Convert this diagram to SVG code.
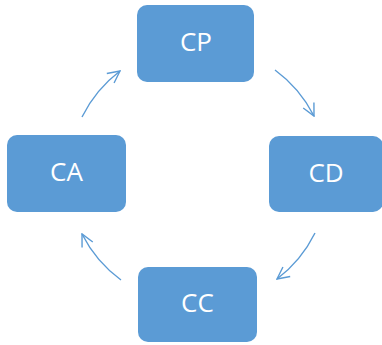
<svg xmlns="http://www.w3.org/2000/svg" width="382" height="345" viewBox="0 0 382 345">
<style>
.box{fill:#5B9BD5}
.lbl{fill:#FFFFFF;font-family:"Open Sans","Liberation Sans",sans-serif;font-size:26px;text-anchor:middle;dominant-baseline:central}
.arc{fill:none;stroke:#5B9BD5;stroke-width:1.4;marker-end:url(#ah)}
</style>
<defs>
<marker id="ah" viewBox="0 0 14 14" refX="13" refY="7" markerWidth="14" markerHeight="14" markerUnits="userSpaceOnUse" orient="auto">
<path d="M1,1 L13,7 L1,13" fill="none" stroke="#5B9BD5" stroke-width="1.4"/>
</marker>
</defs>
<rect width="382" height="345" fill="#FFFFFF"/>
<g id="connectors">
<path class="arc" d="M82,117 A130,130 0 0 1 120,71"/>
<path class="arc" d="M275,70 A130,130 0 0 1 314,116"/>
<path class="arc" d="M315,233 A130,130 0 0 1 277,279"/>
<path class="arc" d="M121,280 A130,130 0 0 1 82,234"/>
</g>
<g id="CP"><rect class="box" x="137" y="5" width="117" height="77" rx="10"/><text class="lbl" x="196" y="41">CP</text></g>
<g id="CD"><rect class="box" x="269" y="136" width="114" height="76" rx="10"/><text class="lbl" x="326" y="172">CD</text></g>
<g id="CC"><rect class="box" x="138" y="267" width="119" height="75" rx="10"/><text class="lbl" x="197.5" y="302">CC</text></g>
<g id="CA"><rect class="box" x="7" y="135" width="119" height="77" rx="10"/><text class="lbl" x="66.5" y="171">CA</text></g>
</svg>
